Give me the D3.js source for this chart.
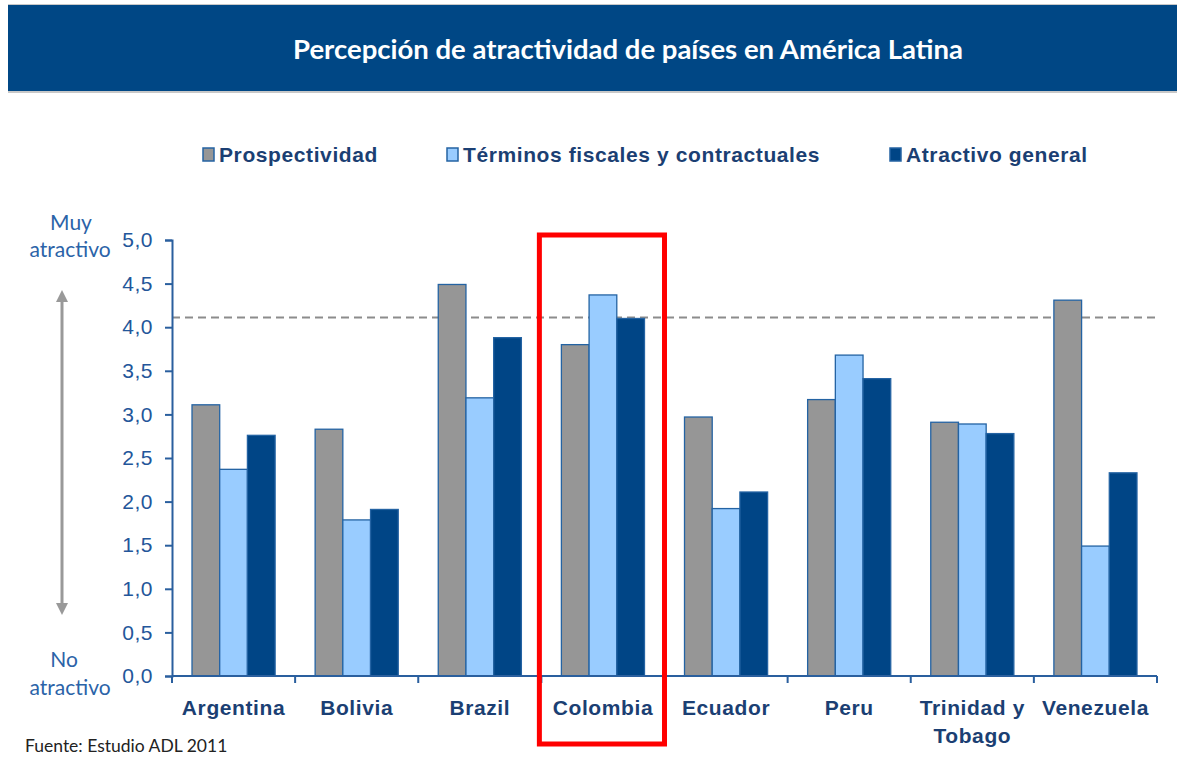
<!DOCTYPE html>
<html>
<head>
<meta charset="utf-8">
<script src="https://cdn.jsdelivr.net/npm/d3@7"></script>
<style>
  html, body { margin: 0; padding: 0; background: #fff; }
  svg { display: block; }
</style>
</head>
<body>
<svg id="chart" width="1177" height="758"></svg>
<script>
'use strict';

// ── data ────────────────────────────────────────────────────────
const countries = ['Argentina', 'Bolivia', 'Brazil', 'Colombia', 'Ecuador', 'Peru', 'Trinidad y Tobago', 'Venezuela'];
const seriesNames = ['Prospectividad', 'Términos fiscales y contractuales', 'Atractivo general'];
const prospectividad = [3.11, 2.83, 4.49, 3.80, 2.97, 3.17, 2.91, 4.31];
const terminos       = [2.37, 1.79, 3.19, 4.37, 1.92, 3.68, 2.89, 1.49];
const atractivo      = [2.76, 1.91, 3.88, 4.10, 2.11, 3.41, 2.78, 2.33];
const yTicks = [0, 0.5, 1, 1.5, 2, 2.5, 3, 3.5, 4, 4.5, 5];
const referenceLevel = 4.11;
const highlighted = 'Colombia';

const COLORS = ['#969696', '#99ccff', '#004586'];
const OUTLINE = '#2463a3';
const AXIS = '#2a5f9e';
const TEXT_DARK = '#1b3f73';
const BOLD_FONT = 'bold 21px "Liberation Sans", Arial, sans-serif';

const svg = d3.select('#chart');
const W = 1177;

// ── title banner ────────────────────────────────────────────────
svg.append('rect').attr('x', 8).attr('y', 4).attr('width', W - 8).attr('height', 89).attr('fill', '#c8c8c8');
svg.append('rect').attr('x', 8).attr('y', 5).attr('width', W - 8).attr('height', 86).attr('fill', '#004785');
svg.append('text')
  .attr('x', 628).attr('y', 59)
  .attr('text-anchor', 'middle')
  .attr('fill', '#fff')
  .style('font', 'bold 27.5px Lato, "Open Sans", sans-serif')
  .text('Percepción de atractividad de países en América Latina');

// ── scales ──────────────────────────────────────────────────────
const plot = { left: 172, right: 1157, top: 240, bottom: 676 };
const x = d3.scaleBand().domain(countries).range([plot.left, plot.right]).paddingInner(0).paddingOuter(0);
const groupW = x.bandwidth() * 0.675;
const xs = d3.scaleBand().domain(seriesNames).range([0, groupW]);
const y = d3.scaleLinear().domain([0, 5]).range([plot.bottom, plot.top]);

// ── legend ──────────────────────────────────────────────────────
const legendX = [203, 447, 890];
const legend = svg.append('g').style('font', BOLD_FONT).style('letter-spacing', '0.6px');
seriesNames.forEach((name, i) => {
  legend.append('rect')
    .attr('x', legendX[i]).attr('y', 148).attr('width', 11).attr('height', 13)
    .attr('fill', COLORS[i]).attr('stroke', OUTLINE).attr('stroke-width', 1.5);
  legend.append('text')
    .attr('x', legendX[i] + 16).attr('y', 162)
    .attr('fill', TEXT_DARK)
    .text(name);
});

// ── reference line ──────────────────────────────────────────────
svg.append('line')
  .attr('x1', plot.left).attr('x2', plot.right)
  .attr('y1', y(referenceLevel)).attr('y2', y(referenceLevel))
  .attr('stroke', '#8c8c8c').attr('stroke-width', 2).attr('stroke-dasharray', '8 5');

// ── bars ────────────────────────────────────────────────────────
const series = [prospectividad, terminos, atractivo];
const groups = svg.append('g').selectAll('g')
  .data(countries).join('g')
  .attr('transform', d => `translate(${x(d) + (x.bandwidth() - groupW) / 2},0)`);

groups.selectAll('rect')
  .data((c, ci) => seriesNames.map((s, si) => ({ s, si, v: series[si][ci] })))
  .join('rect')
  .attr('x', d => xs(d.s))
  .attr('width', xs.bandwidth())
  .attr('y', d => y(d.v))
  .attr('height', d => y(0) - y(d.v))
  .attr('fill', d => COLORS[d.si])
  .attr('stroke', OUTLINE).attr('stroke-width', 1.3);

// ── axes ────────────────────────────────────────────────────────
const fmt = d3.format('.1f');
const yAxis = svg.append('g')
  .attr('transform', `translate(${plot.left},0)`)
  .call(d3.axisLeft(y).tickValues(yTicks).tickSize(7).tickPadding(12)
    .tickFormat(d => fmt(d).replace('.', ',')));
yAxis.select('.domain').attr('stroke', AXIS).attr('stroke-width', 2);
yAxis.selectAll('.tick line').attr('stroke', AXIS).attr('stroke-width', 2);
yAxis.selectAll('text')
  .attr('fill', '#23569a')
  .style('font', '21px "Liberation Sans", Arial, sans-serif')
  .style('letter-spacing', '0.5px');

const xAxis = svg.append('g').attr('transform', `translate(0,${plot.bottom})`);
xAxis.append('line')
  .attr('x1', plot.left).attr('x2', plot.right)
  .attr('stroke', AXIS).attr('stroke-width', 2);
xAxis.selectAll('line.tick')
  .data(countries.map(c => x(c)).concat([plot.right]))
  .join('line').attr('class', 'tick')
  .attr('x1', d => d).attr('x2', d => d)
  .attr('y1', 0).attr('y2', 7)
  .attr('stroke', AXIS).attr('stroke-width', 2);

const catLabels = xAxis.selectAll('text.cat')
  .data(countries).join('text').attr('class', 'cat')
  .attr('x', d => x(d) + x.bandwidth() / 2)
  .attr('y', 39)
  .attr('text-anchor', 'middle')
  .attr('fill', TEXT_DARK)
  .style('font', BOLD_FONT)
  .style('letter-spacing', '0.6px');
catLabels.each(function(d) {
  const parts = d === 'Trinidad y Tobago' ? ['Trinidad y', 'Tobago'] : [d];
  d3.select(this).selectAll('tspan').data(parts).join('tspan')
    .attr('x', x(d) + x.bandwidth() / 2)
    .attr('dy', (p, i) => i ? 28 : 0)
    .text(p => p);
});

// ── scale annotations at the left ──────────────────────────────
const side = svg.append('g')
  .attr('fill', '#2b63a8')
  .attr('text-anchor', 'middle')
  .style('font', '21px Lato, "Open Sans", sans-serif');
side.append('text').attr('x', 71).attr('y', 230).text('Muy');
side.append('text').attr('x', 70).attr('y', 257).text('atractivo');
side.append('text').attr('x', 64).attr('y', 667).text('No');
side.append('text').attr('x', 70).attr('y', 695).text('atractivo');

const defs = svg.append('defs');
defs.append('marker').attr('id', 'arrowhead')
  .attr('viewBox', '0 0 10 10').attr('refX', 5).attr('refY', 5)
  .attr('markerWidth', 4).attr('markerHeight', 4).attr('orient', 'auto-start-reverse')
  .append('path').attr('d', 'M0,0 L10,5 L0,10 Z').attr('fill', '#999');
svg.append('line')
  .attr('x1', 62).attr('x2', 62).attr('y1', 296).attr('y2', 609)
  .attr('stroke', '#999').attr('stroke-width', 3)
  .attr('marker-start', 'url(#arrowhead)').attr('marker-end', 'url(#arrowhead)');

// ── highlight box ───────────────────────────────────────────────
svg.append('rect')
  .attr('x', x(highlighted) - 2).attr('y', y(5) - 5)
  .attr('width', x.bandwidth() + 2).attr('height', 744 - (y(5) - 5))
  .attr('fill', 'none').attr('stroke', '#ff0000').attr('stroke-width', 5);

// ── source ──────────────────────────────────────────────────────
svg.append('text')
  .attr('x', 25).attr('y', 752)
  .attr('fill', '#222')
  .style('font', '17.5px Lato, "Open Sans", sans-serif')
  .text('Fuente: Estudio ADL 2011');
</script>
</body>
</html>
